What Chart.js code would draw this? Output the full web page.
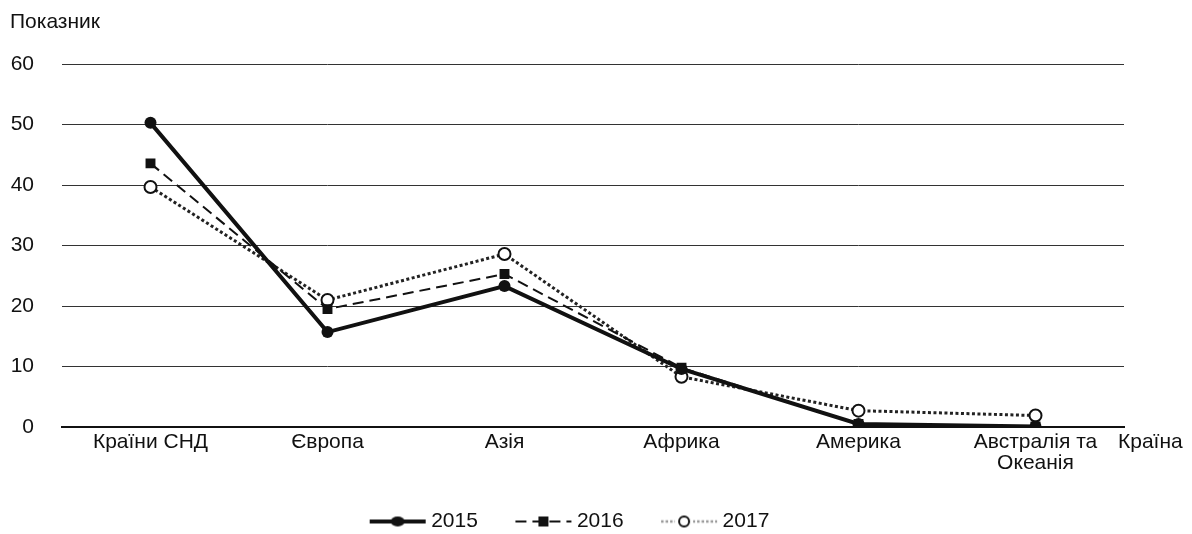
<!DOCTYPE html>
<html>
<head>
<meta charset="utf-8">
<script src="https://cdn.jsdelivr.net/npm/chart.js@4.4.1/dist/chart.umd.min.js"></script>
<style>
  html, body { margin: 0; padding: 0; background: #fff; }
  canvas { display: block; }
</style>
</head>
<body>
<canvas id="chart" width="1192" height="534"></canvas>
<script>
const categories = ['Країни СНД', 'Європа', 'Азія', 'Африка', 'Америка', ['Австралія та', 'Океанія']];
const years = ['2015', '2016', '2017'];
const values2015 = [50.3, 15.7, 23.3, 9.6, 0.5, 0.1];
const values2016 = [43.6, 19.5, 25.3, 9.8, 0.5, 0.1];
const values2017 = [39.7, 21.0, 28.6, 8.3, 2.7, 1.9];
const yTicks = [0, 10, 20, 30, 40, 50, 60];

const FONT = "'Liberation Sans', Arial, sans-serif";
const FS = 21;

// small line+marker image for each legend entry (78 wide, line 16..72)
function legendIcon(kind) {
  const c = document.createElement('canvas');
  c.width = 78;
  c.height = 16;
  const g = c.getContext('2d');
  const cy = 8;
  const x0 = 16, x1 = 72, mid = 44;
  g.strokeStyle = '#111';
  g.fillStyle = '#111';
  if (kind === 0) {
    g.lineWidth = 4;
    g.beginPath(); g.moveTo(x0, cy); g.lineTo(x1, cy); g.stroke();
    g.beginPath(); g.ellipse(mid, cy, 7, 5, 0, 0, Math.PI * 2); g.fill();
  } else if (kind === 1) {
    g.lineWidth = 2;
    g.setLineDash([11, 6]);
    g.beginPath(); g.moveTo(x0, cy); g.lineTo(x1, cy); g.stroke();
    g.fillRect(mid - 5, cy - 5, 10, 10);
  } else {
    g.strokeStyle = '#999';
    g.lineWidth = 2.5;
    g.setLineDash([2.5, 2]);
    g.beginPath(); g.moveTo(x0, cy); g.lineTo(x1, cy); g.stroke();
    g.setLineDash([]);
    g.fillStyle = '#fff';
    g.fillRect(mid - 14, cy - 7, 18, 14);
    g.strokeStyle = '#111';
    g.lineWidth = 2;
    g.beginPath(); g.arc(mid - 5, cy, 5, 0, Math.PI * 2); g.fill(); g.stroke();
  }
  return c;
}
const icons = [legendIcon(0), legendIcon(1), legendIcon(2)];

const axisLabels = {
  id: 'axisLabels',
  afterDraw(chart) {
    const { ctx, chartArea } = chart;
    ctx.save();
    ctx.font = FS + 'px ' + FONT;
    ctx.fillStyle = '#111';
    ctx.textBaseline = 'middle';
    ctx.textAlign = 'left';
    ctx.fillText('Країна', chartArea.right - 6, chartArea.bottom + 15);
    ctx.restore();
  }
};

const ctx = document.getElementById('chart').getContext('2d');

new Chart(ctx, {
  type: 'line',
  data: {
    labels: categories,
    datasets: [
      {
        label: years[0],
        data: values2015,
        borderColor: '#111',
        backgroundColor: '#111',
        borderWidth: 4,
        pointStyle: 'circle',
        pointRadius: 6,
        pointBackgroundColor: '#111',
        pointBorderWidth: 0,
        fill: false,
      },
      {
        label: years[1],
        data: values2016,
        borderColor: '#111',
        backgroundColor: '#111',
        borderWidth: 2,
        borderDash: [11, 6],
        pointStyle: 'rect',
        pointRadius: 7,
        pointBackgroundColor: '#111',
        pointBorderWidth: 0,
        fill: false,
      },
      {
        label: years[2],
        data: values2017,
        borderColor: '#222',
        backgroundColor: '#fff',
        borderWidth: 3,
        borderDash: [3, 2.5],
        pointStyle: 'circle',
        pointRadius: 6,
        pointBackgroundColor: '#fff',
        pointBorderColor: '#111',
        pointBorderWidth: 2,
        fill: false,
      },
    ],
  },
  options: {
    responsive: false,
    animation: false,
    layout: {
      padding: { left: 10, right: 68, bottom: -8 },
    },
    plugins: {
      title: {
        display: true,
        text: 'Показник',
        align: 'start',
        color: '#111',
        font: { family: FONT, size: FS, weight: 'normal' },
        padding: { top: 10, bottom: 29 },
      },
      legend: {
        position: 'bottom',
        labels: {
          usePointStyle: true,
          pointStyleWidth: 56,
          padding: 15,
          color: '#111',
          font: { family: FONT, size: FS, lineHeight: 1 },
          generateLabels(chart) {
            const n = chart.data.datasets.length;
            return chart.data.datasets.map((ds, i) => ({
              text: ds.label + (i < n - 1 ? '   ' : ''),
              pointStyle: icons[i],
              fillStyle: '#111',
              strokeStyle: '#111',
              lineWidth: 0,
              hidden: false,
              datasetIndex: i,
              fontColor: '#111',
            }));
          },
        },
      },
      tooltip: { enabled: false },
    },
    scales: {
      x: {
        offset: true,
        grid: { display: false, drawTicks: false },
        border: { display: true, color: '#111', width: 2 },
        ticks: {
          color: '#111',
          font: { family: FONT, size: FS, lineHeight: 1 },
          maxRotation: 0,
          autoSkip: false,
          padding: 5,
        },
        afterFit(scale) { scale.height = 69; },
      },
      y: {
        min: 0,
        max: 60,
        afterBuildTicks(scale) { scale.ticks = yTicks.map(v => ({ value: v })); },
        grid: { color: '#333', lineWidth: 1, drawTicks: false },
        border: { display: false },
        ticks: {
          color: '#111',
          font: { family: FONT, size: FS },
          padding: 28,
        },
        afterFit(scale) { scale.width = 52; },
      },
    },
  },
  plugins: [axisLabels],
});
</script>
</body>
</html>
